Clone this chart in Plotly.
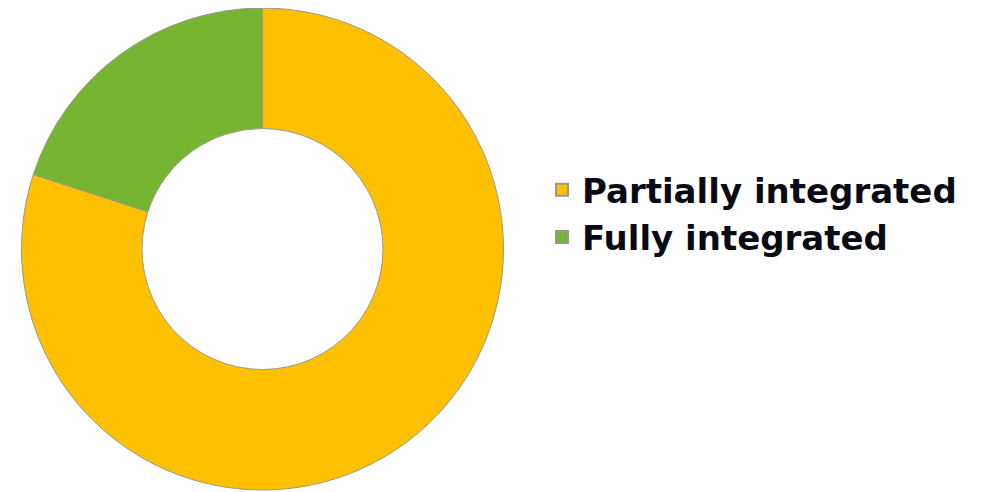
import plotly.graph_objects as go

labels = ["Partially integrated", "Fully integrated"]
values = [80, 20]
colors = ["#FFC000", "#76B531"]

fig = go.Figure(go.Pie(
    labels=labels,
    values=values,
    hole=0.5,
    sort=False,
    direction="clockwise",
    rotation=0,
    marker=dict(colors=colors, line=dict(color="#9A9A8A", width=1)),
    textinfo="none",
    hoverinfo="label+percent",
    domain=dict(x=[0.0135, 0.4955], y=[0.0203, 1.0]),
))

fig.update_layout(
    width=1000, height=492,
    margin=dict(l=0, r=0, t=0, b=0),
    paper_bgcolor="white", plot_bgcolor="white",
    showlegend=True,
    legend=dict(
        x=0.534, y=0.582, xanchor="left", yanchor="middle",
        font=dict(family="DejaVu Sans", size=34, color="#0a0a14", weight="bold"),
        itemsizing="constant", tracegroupgap=0, itemwidth=30,
    ),
)

fig.write_html("out.html")
